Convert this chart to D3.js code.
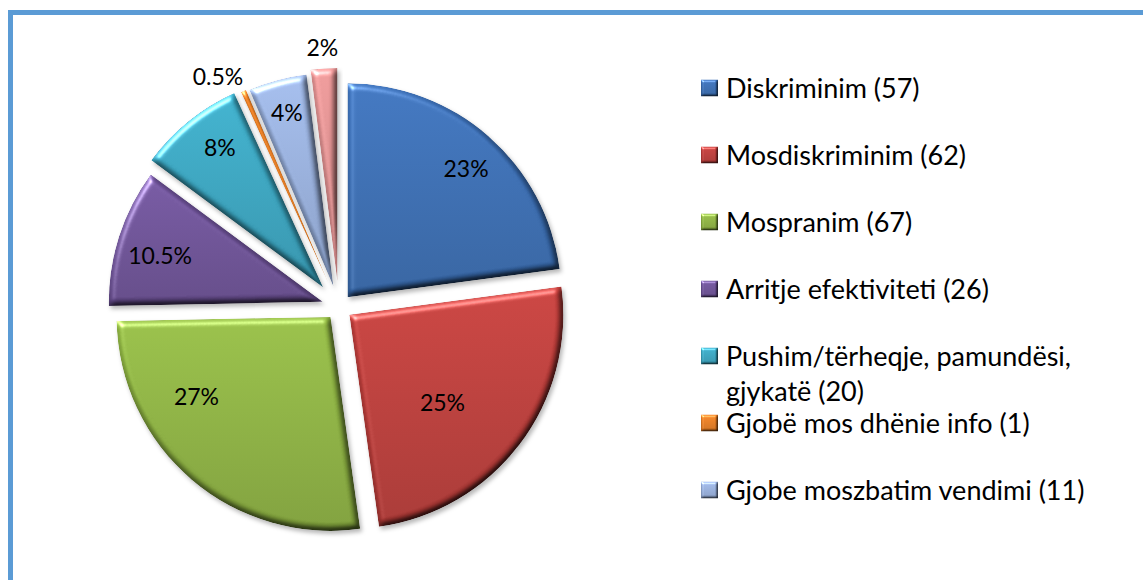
<!DOCTYPE html>
<html>
<head>
<meta charset="utf-8">
<script src="https://cdn.jsdelivr.net/npm/d3@7"></script>
<style>
  html, body { margin: 0; padding: 0; background: #fff; }
  svg { display: block; }
  text { font-family: Lato, "Open Sans", sans-serif; fill: #000; }
</style>
</head>
<body>
<svg id="chart"></svg>
<script>
(function () {
    let w = 1143,
        h = 580;

    // data
    let categories = ["Diskriminim", "Mosdiskriminim", "Mospranim", "Arritje efektiviteti",
        "Pushim/tërheqje, pamundësi, gjykatë", "Gjobë mos dhënie info", "Gjobe moszbatim vendimi", ""];
    let values = [57, 62, 67, 26, 20, 1, 11, 5];
    let pct_labels = ["23%", "25%", "27%", "10.5%", "8%", "0.5%", "4%", "2%"];

    // styling
    let colors = ["#386AAE", "#B83B38", "#8AAE40", "#6A4F93", "#37A1BC", "#E27A22", "#94ACD8", "#DA8C8C"];
    let explode = [13, 13, 13, 17, 25, 22, 21, 25];
    // label place relative to slice tip: [angle in degrees, distance]
    let label_place = [[42.6, 175], [133.3, 128], [239.3, 156], [285.7, 169],
        [323.5, 174], [331.9, 238], [345, 180], [356.3, 235]];

    let cx = 339, cy = 307, r = 214;

    let svg = d3.select("#chart").attr("width", w).attr("height", h);
    let defs = svg.append("defs");

    // soft bevel + shadow like the office chart style
    function bevel(id, blur, depth, shadow) {
        let f = defs.append("filter").attr("id", id)
            .attr("x", "-20%").attr("y", "-20%").attr("width", "140%").attr("height", "140%")
            .attr("color-interpolation-filters", "sRGB");
        f.append("feGaussianBlur").attr("in", "SourceAlpha").attr("stdDeviation", blur).attr("result", "blur");
        f.append("feDiffuseLighting").attr("in", "blur").attr("surfaceScale", depth)
            .attr("diffuseConstant", 1.155).attr("lighting-color", "#fff").attr("result", "diff")
            .append("feDistantLight").attr("azimuth", 235).attr("elevation", 60);
        f.append("feComposite").attr("in", "SourceGraphic").attr("in2", "diff")
            .attr("operator", "arithmetic").attr("k1", 1).attr("k2", 0).attr("k3", 0).attr("k4", 0)
            .attr("result", "lit");
        f.append("feSpecularLighting").attr("in", "blur").attr("surfaceScale", depth)
            .attr("specularConstant", 0.6).attr("specularExponent", 20)
            .attr("lighting-color", "#fff").attr("result", "spec")
            .append("feDistantLight").attr("azimuth", 235).attr("elevation", 30);
        f.append("feComposite").attr("in", "spec").attr("in2", "SourceAlpha")
            .attr("operator", "in").attr("result", "spec_in");
        f.append("feComposite").attr("in", "lit").attr("in2", "spec_in")
            .attr("operator", "arithmetic").attr("k1", 0).attr("k2", 1).attr("k3", 1).attr("k4", 0)
            .attr("result", "shaded");
        f.append("feComposite").attr("in", "shaded").attr("in2", "SourceAlpha")
            .attr("operator", "in").attr("result", "final");
        let m;
        if (shadow) {
            f.append("feGaussianBlur").attr("in", "SourceAlpha").attr("stdDeviation", 2).attr("result", "sb");
            f.append("feOffset").attr("in", "sb").attr("dx", 2).attr("dy", 3).attr("result", "so");
            f.append("feFlood").attr("flood-color", "#000").attr("flood-opacity", 0.28);
            f.append("feComposite").attr("in2", "so").attr("operator", "in").attr("result", "shadow");
            m = f.append("feMerge");
            m.append("feMergeNode").attr("in", "shadow");
        } else {
            m = f.append("feMerge");
        }
        m.append("feMergeNode").attr("in", "final");
    }
    bevel("bevel", 3, 4.5, true);
    bevel("bevel-key", 1.2, 2, false);

    colors.forEach(function (c, i) {
        let g = defs.append("linearGradient").attr("id", "grad" + i)
            .attr("x1", 0).attr("y1", 0).attr("x2", 0).attr("y2", 1);
        g.append("stop").attr("offset", "0%").attr("stop-color", d3.rgb(c).brighter(0.18));
        g.append("stop").attr("offset", "100%").attr("stop-color", d3.rgb(c).darker(0.35));
    });

    // chart border
    svg.append("rect").attr("x", 10.5).attr("y", 12.5)
        .attr("width", w + 20).attr("height", h + 20)
        .attr("fill", "none").attr("stroke", "#5B9BD5").attr("stroke-width", 5);

    let pie = d3.pie().sort(null).value(function (d) { return d; });
    let arcs = pie(values);
    let arc = d3.arc().innerRadius(0).outerRadius(r);

    function dir(a) {
        return [Math.sin(a), -Math.cos(a)];
    }

    let slices = svg.append("g").attr("transform", `translate(${cx},${cy})`);

    slices.selectAll("path")
        .data(arcs).enter().append("path")
        .attr("transform", function (d, i) {
            let v = dir((d.startAngle + d.endAngle) / 2);
            return `translate(${v[0] * explode[i]},${v[1] * explode[i]})`;
        })
        .attr("d", arc)
        .attr("fill", function (d, i) { return `url(#grad${i})`; })
        .attr("filter", "url(#bevel)");

    slices.selectAll("text")
        .data(arcs).enter().append("text")
        .attr("x", function (d, i) {
            let v = dir((d.startAngle + d.endAngle) / 2);
            let p = dir(label_place[i][0] * Math.PI / 180);
            return v[0] * explode[i] + p[0] * label_place[i][1];
        })
        .attr("y", function (d, i) {
            let v = dir((d.startAngle + d.endAngle) / 2);
            let p = dir(label_place[i][0] * Math.PI / 180);
            return v[1] * explode[i] + p[1] * label_place[i][1];
        })
        .attr("dy", 8.3)
        .attr("font-size", 23)
        .attr("text-anchor", "middle")
        .text(function (d, i) { return pct_labels[i]; });

    // legend
    let leg_x = 701, leg_y = 88, leg_step = 67, key = 17, max_text = 400;
    let legend_items = categories.map(function (c, i) {
        return {name: c, value: values[i], i: i};
    }).filter(function (d) {
        return d.name !== "" && leg_y + d.i * leg_step < h - 60;
    });

    let leg = svg.append("g");
    let items = leg.selectAll("g").data(legend_items).enter().append("g")
        .attr("transform", function (d, k) { return `translate(${leg_x},${leg_y + k * leg_step})`; });

    items.append("rect")
        .attr("x", 0).attr("y", -key / 2)
        .attr("width", key).attr("height", key)
        .attr("fill", function (d) { return `url(#grad${d.i})`; })
        .attr("filter", "url(#bevel-key)");

    items.append("text")
        .attr("x", 25)
        .attr("y", 9.6)
        .attr("font-size", 27)
        .each(function (d) {
            let t = d3.select(this);
            let words = `${d.name} (${d.value})`.split(" ");
            let line = [];
            let ts = t.append("tspan").attr("x", 25).attr("dy", 0);
            words.forEach(function (word) {
                line.push(word);
                ts.text(line.join(" "));
                if (ts.node().getComputedTextLength() > max_text && line.length > 1) {
                    line.pop();
                    ts.text(line.join(" "));
                    line = [word];
                    ts = t.append("tspan").attr("x", 25).attr("dy", 35).text(word);
                }
            });
        });
})();
</script>
</body>
</html>
